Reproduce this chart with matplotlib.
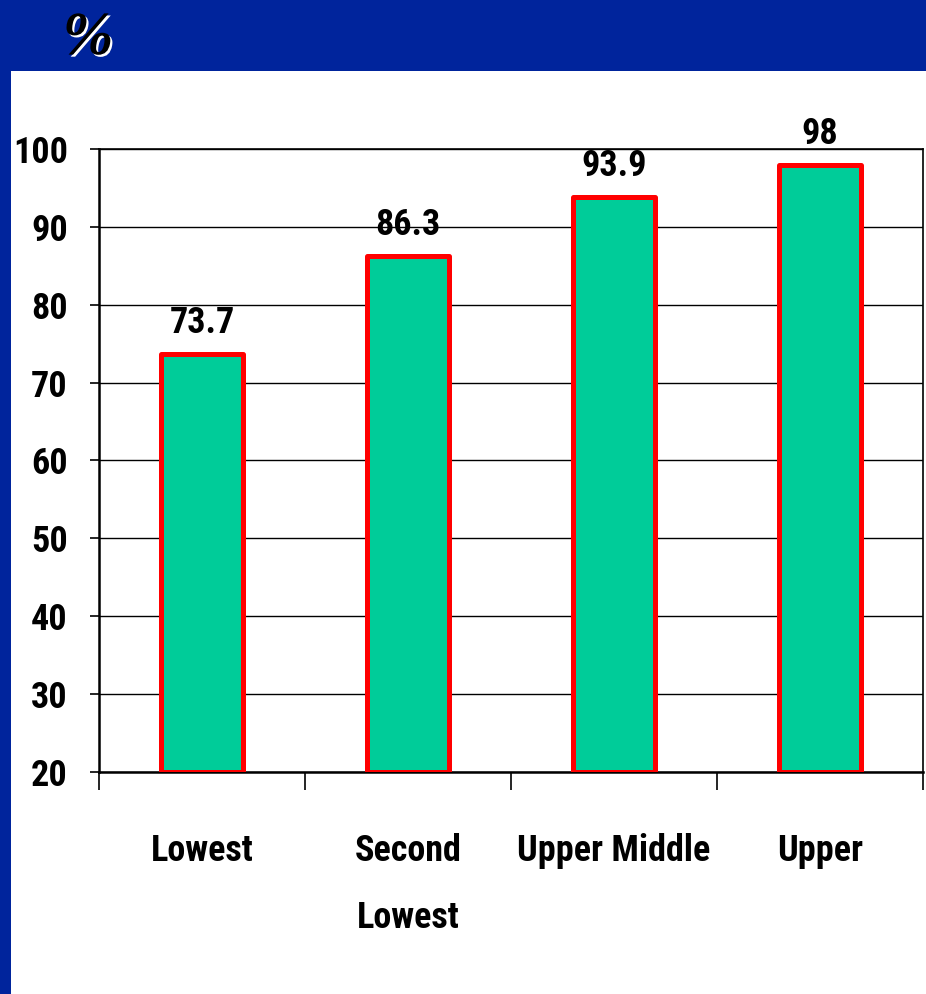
import matplotlib.pyplot as plt
import matplotlib.patheffects as pe
from matplotlib.patches import Rectangle

# Share of households by income group (%)
groups = ["Lowest", "Second\nLowest", "Upper Middle", "Upper"]
shares = [73.7, 86.3, 93.9, 98]
y_ticks = [20, 30, 40, 50, 60, 70, 80, 90, 100]

BLUE = "#00249C"
GREEN = "#00CC99"
RED = "#FF0000"
FONT = ["Roboto Condensed", "Liberation Sans", "DejaVu Sans"]

plt.rcParams["font.family"] = FONT
plt.rcParams["font.weight"] = "bold"

W, H = 926, 994
fig = plt.figure(figsize=(W / 100, H / 100), dpi=100, facecolor=BLUE)

# white slide body under the blue header and left strip
fig.patches.append(Rectangle((11 / W, 0), 1 - 11 / W, 1 - 71 / H,
                             transform=fig.transFigure, facecolor="white",
                             edgecolor="none", zorder=-1))

# header symbol with a white drop shadow
fig.text(88 / W, 1 - 39 / H, "%", color="black",
         family=["Liberation Serif", "DejaVu Serif"], style="italic",
         weight="bold", fontsize=44, ha="center", va="center",
         path_effects=[pe.withSimplePatchShadow(offset=(1.5, -1.5),
                                                shadow_rgbFace="white",
                                                alpha=1.0)])

ax = fig.add_axes([99 / W, 1 - 772 / H, 824 / W, 623 / H])
ax.set_zorder(1)
ax.set_facecolor("white")

x = list(range(len(groups)))
bars = ax.bar(x, [s - 20 for s in shares], bottom=20, width=0.40,
              color=GREEN, edgecolor=RED, linewidth=3.6, zorder=3,
              joinstyle="round")

for xi, s in zip(x, shares):
    ax.annotate(f"{s:g}", (xi, s), xytext=(0, 9), textcoords="offset points",
                ha="center", va="bottom", fontsize=26, fontweight="bold",
                zorder=4)

ax.set_xlim(-0.5, len(groups) - 0.5)
ax.set_ylim(20, 100)
ax.set_yticks(y_ticks)
ax.yaxis.grid(True, color="black", linewidth=1.0, zorder=1)
ax.set_axisbelow(True)

# boundaries between groups get the tick marks, centres get the labels
ax.set_xticks([i - 0.5 for i in range(len(groups) + 1)])
ax.set_xticklabels([])
ax.set_xticks(x, minor=True)
ax.set_xticklabels(groups, minor=True, fontsize=26, fontweight="bold",
                   linespacing=2.1)
ax.tick_params(axis="x", which="major", direction="out", length=13,
               width=1.2, color="black")
ax.tick_params(axis="x", which="minor", length=0, pad=44)
ax.tick_params(axis="y", direction="out", length=6.5, width=1.2, pad=16,
               labelsize=26)

for side in ["left", "bottom"]:
    ax.spines[side].set_linewidth(1.8)
for side in ["top", "right"]:
    ax.spines[side].set_linewidth(1.2)

fig.savefig("out.png", dpi=100, facecolor=BLUE)
